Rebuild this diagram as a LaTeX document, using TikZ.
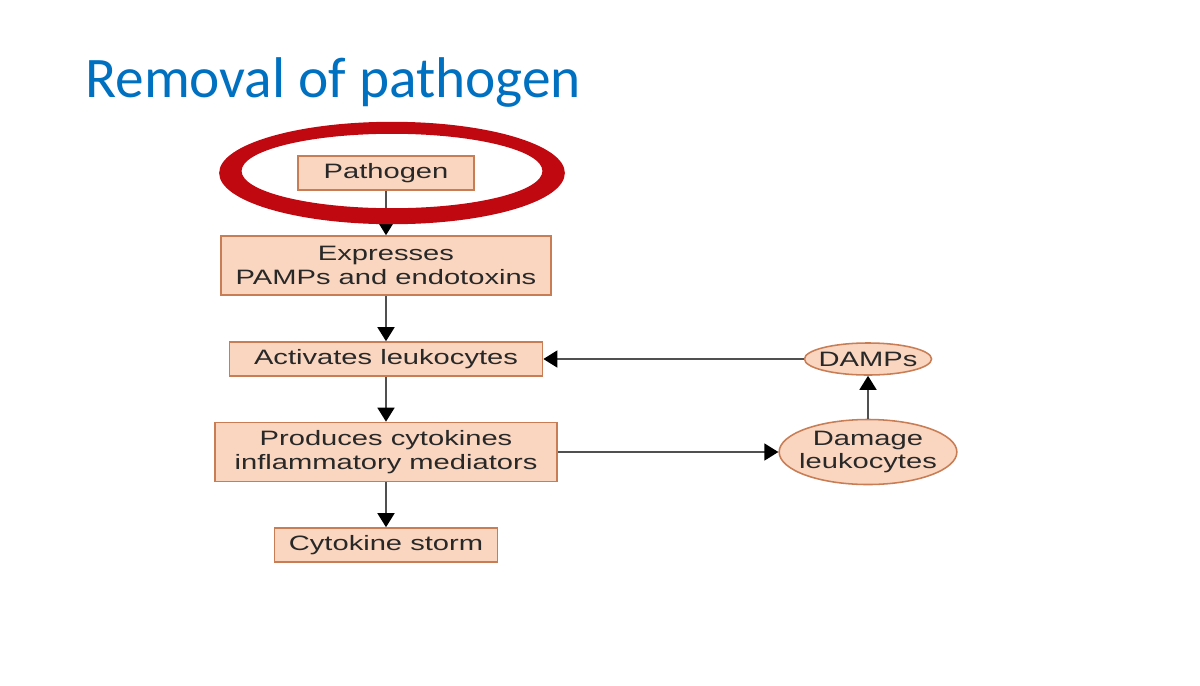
\documentclass[tikz,border=0pt]{standalone}
\usepackage{fontspec}
\usetikzlibrary{arrows.meta,shapes.geometric}
\newfontfamily\titlefont{Carlito}
\newfontfamily\boxfont[FakeStretch=1.4]{Liberation Sans}
\definecolor{titleblue}{RGB}{0,112,192}
\definecolor{boxfill}{RGB}{250,214,192}
\definecolor{boxedge}{RGB}{200,125,85}
\definecolor{boxtext}{RGB}{40,40,40}
\definecolor{linegray}{RGB}{80,80,80}
\definecolor{ringred}{RGB}{192,8,16}

\begin{document}
\begin{tikzpicture}[x=0.025cm,y=-0.025cm,
   box/.style={draw=boxedge, fill=boxfill, line width=1.1pt, inner sep=0pt,
     text=boxtext, align=center, font=\boxfont\fontsize{14.8}{17}\selectfont},
   oval/.style={box, ellipse, inner xsep=-0.15cm},
   flow/.style={draw=linegray, line width=1.5pt,
     -{Triangle[length=0.35cm,width=0.42cm,color=black]}}]
   \fill[white] (0,0) rectangle (1200,685);
   \path[use as bounding box] (0,0) rectangle (1200,685);

   \node(title)[anchor=base west, inner sep=0pt, text=titleblue,
     font=\titlefont\fontsize{40.8}{48}\selectfont] at (85,97) {Removal of pathogen};

   % main chain
   \node(path)[box, minimum width=4.4cm, minimum height=0.85cm] at (386,173) {Pathogen};
   \node(expr)[box, minimum width=8.25cm, minimum height=1.475cm] at (386,265.5) {Expresses\\PAMPs and endotoxins};
   \node(act)[box, minimum width=7.825cm, minimum height=0.85cm] at (386,359) {Activates leukocytes};
   \node(prod)[box, minimum width=8.55cm, minimum height=1.475cm] at (386,452) {Produces cytokines\\inflammatory mediators};
   \node(storm)[box, minimum width=5.575cm, minimum height=0.85cm] at (386,545) {Cytokine storm};

   % feedback loop
   \node(damps)[oval, minimum width=3.175cm, minimum height=0.8cm] at (868,359) {DAMPs};
   \node(dmg)[oval, minimum width=4.4cm, minimum height=1.625cm] at (868,452) {Damage\\leukocytes};

   \draw[flow] (path) -- (expr);
   \draw[flow] (expr) -- (act);
   \draw[flow] (act) -- (prod);
   \draw[flow] (prod) -- (storm);
   \draw[flow] (prod) -- (dmg);
   \draw[flow] (dmg) -- (damps);
   \draw[flow] (damps) -- (act);

   % red ring round the pathogen
   \fill[ringred, even odd rule]
     (392,173) ellipse [x radius=4.32cm, y radius=1.28cm]
     (392,171) ellipse [x radius=3.76cm, y radius=0.93cm];
\end{tikzpicture}
\end{document}
